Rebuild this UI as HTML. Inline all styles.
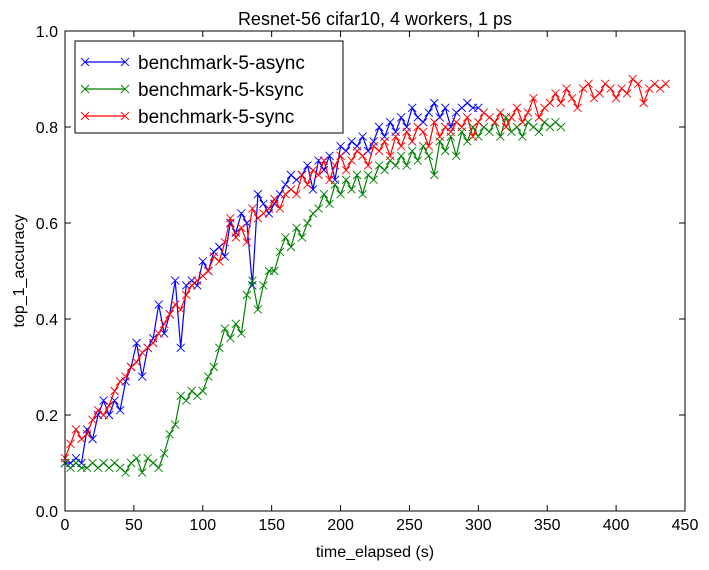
<!DOCTYPE html>
<html><head><meta charset="utf-8"><style>
body{margin:0;background:#fff;}
svg{display:block;font-family:"Liberation Sans",sans-serif;}
</style></head><body>
<svg id="chart" width="709" height="570" viewBox="0 0 709 570" xmlns="http://www.w3.org/2000/svg">
<rect width="709" height="570" fill="#fff"/>
<text x="375" y="25" font-size="18" text-anchor="middle">Resnet-56 cifar10, 4 workers, 1 ps</text>
<g id="series"></g>
<rect x="65" y="31" width="620" height="480" fill="none" stroke="#000" stroke-width="1"/>
<g id="ticks"></g>
<text x="375" y="557" font-size="16" text-anchor="middle">time_elapsed (s)</text>
<text transform="translate(24,271) rotate(-90)" font-size="16" text-anchor="middle">top_1_accuracy</text>
<g>
<rect x="75" y="41" width="268" height="92" fill="#fff" stroke="#000" stroke-width="1"/>
<g id="legend-entries"></g>
</g>
</svg>
<script>
const xTicks=[0,50,100,150,200,250,300,350,400,450];
const yTicks=[0.0,0.2,0.4,0.6,0.8,1.0];
const seriesNames=["benchmark-5-async","benchmark-5-ksync","benchmark-5-sync"];
const seriesColors=["#0000ff","#008000","#ff0000"];
const step=4;
const asyncVals=[.10,.10,.11,.10,.17,.15,.20,.23,.20,.23,.21,.27,.30,.35,.28,.34,.36,.43,.37,.41,.48,.34,.47,.48,.47,.52,.50,.54,.55,.53,.60,.58,.62,.60,.47,.66,.64,.62,.64,.66,.68,.70,.69,.70,.72,.67,.73,.71,.74,.69,.76,.75,.77,.76,.78,.75,.77,.80,.78,.81,.79,.82,.80,.84,.82,.81,.83,.85,.82,.84,.80,.83,.84,.85,.84,.84];
const ksyncVals=[.10,.09,.10,.09,.09,.10,.09,.10,.09,.10,.09,.08,.10,.11,.08,.11,.10,.09,.12,.16,.18,.24,.23,.25,.24,.25,.28,.30,.34,.38,.36,.39,.37,.45,.48,.42,.47,.50,.50,.54,.57,.55,.59,.57,.60,.62,.63,.66,.64,.68,.66,.69,.67,.70,.66,.70,.69,.72,.71,.73,.72,.74,.72,.75,.73,.76,.74,.70,.77,.75,.78,.74,.79,.77,.80,.78,.80,.79,.81,.78,.82,.79,.80,.78,.81,.80,.79,.81,.80,.81,.80];
const syncVals=[.11,.14,.17,.15,.16,.19,.21,.20,.22,.25,.27,.28,.30,.31,.33,.34,.35,.37,.39,.41,.43,.42,.45,.47,.48,.49,.50,.53,.52,.56,.61,.57,.59,.56,.63,.61,.62,.63,.65,.63,.66,.67,.66,.70,.68,.71,.70,.73,.69,.72,.74,.71,.73,.75,.74,.72,.76,.75,.77,.74,.78,.76,.79,.77,.80,.79,.76,.81,.78,.80,.79,.81,.80,.82,.78,.81,.83,.82,.81,.83,.80,.82,.84,.81,.83,.86,.82,.84,.85,.87,.85,.88,.86,.84,.88,.89,.86,.87,.89,.88,.86,.88,.87,.90,.89,.85,.88,.89,.88,.89];
const allVals=[asyncVals,ksyncVals,syncVals];
const X=t=>65+t*(620/450);
const Y=v=>511-v*480;
const NS="http://www.w3.org/2000/svg";
function mk(tag,attrs,parent){const e=document.createElementNS(NS,tag);for(const k in attrs)e.setAttribute(k,attrs[k]);parent.appendChild(e);return e;}
const sg=document.getElementById('series');
allVals.forEach((vals,si)=>{
  const g=mk('g',{},sg);
  
  
  const pts=vals.map((v,i)=>X(i*step).toFixed(1)+','+Y(v).toFixed(1)).join(' ');
  const pl=mk('polyline',{points:pts,fill:'none',stroke:seriesColors[si],'stroke-width':1.2},g);
  
  
  let d='';
  vals.forEach((v,i)=>{const x=X(i*step),y=Y(v),s=4;d+=`M${x-s},${y-s}L${x+s},${y+s}M${x-s},${y+s}L${x+s},${y-s}`;});
  const m=mk('path',{d:d,stroke:seriesColors[si],'stroke-width':0.9,fill:'none'},g);
  
  
});
const tg=document.getElementById('ticks');
xTicks.forEach(t=>{
  const x=X(t);
  mk('line',{x1:x,y1:511,x2:x,y2:505,stroke:'#000'},tg);
  mk('line',{x1:x,y1:31,x2:x,y2:37,stroke:'#000'},tg);
  const tx=mk('text',{x:x,y:530,'font-size':16,'text-anchor':'middle'},tg);
  tx.textContent=t;
  
  
});
yTicks.forEach(v=>{
  const y=Y(v);
  mk('line',{x1:65,y1:y,x2:71,y2:y,stroke:'#000'},tg);
  mk('line',{x1:685,y1:y,x2:679,y2:y,stroke:'#000'},tg);
  const tx=mk('text',{x:58,y:y+6,'font-size':16,'text-anchor':'end'},tg);
  tx.textContent=v.toFixed(1);
  
  
});
const lg=document.getElementById('legend-entries');
seriesNames.forEach((n,i)=>{
  const y=62+i*27;
  const g=mk('g',{},lg);
  
  
  mk('line',{x1:85,y1:y,x2:125,y2:y,stroke:seriesColors[i],'stroke-width':1.2},g);
  [85,125].forEach(x=>mk('path',{d:`M${x-4},${y-4}L${x+4},${y+4}M${x-4},${y+4}L${x+4},${y-4}`,stroke:seriesColors[i],'stroke-width':0.9},g));
  const t=mk('text',{x:138,y:y+7,'font-size':19},g);
  t.textContent=n;
});
</script>
</body></html>
